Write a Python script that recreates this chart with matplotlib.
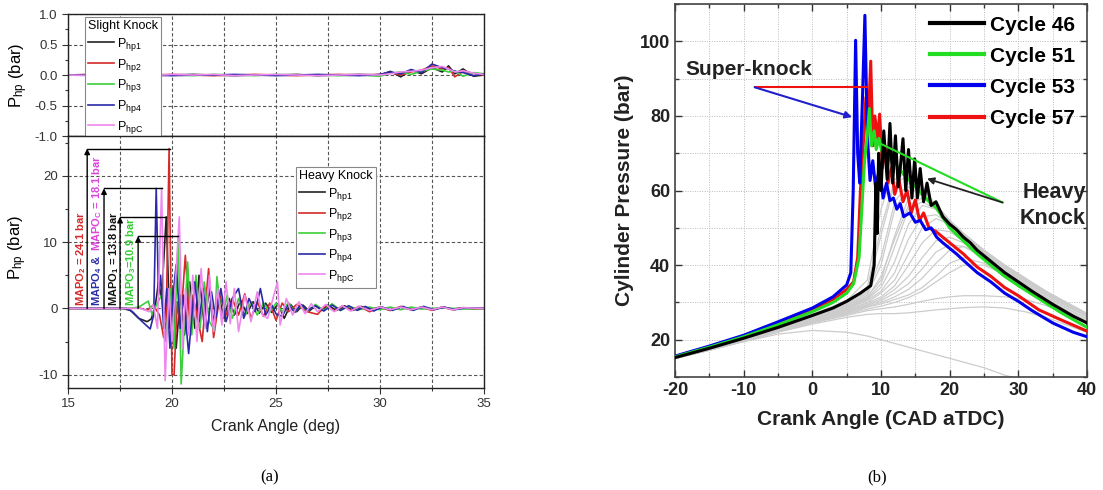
import matplotlib
matplotlib.use("Agg")
import matplotlib.pyplot as plt
from matplotlib.ticker import MultipleLocator

plt.rcParams["font.family"] = ["Liberation Sans", "DejaVu Sans"]
plt.rcParams["axes.unicode_minus"] = False
plt.rcParams["mathtext.fontset"] = "custom"
plt.rcParams["mathtext.rm"] = "Liberation Sans"
plt.rcParams["mathtext.it"] = "Liberation Sans:italic"
plt.rcParams["mathtext.bf"] = "Liberation Sans:bold"

# ---------------- (a) pressure oscillations ----------------
SERIES_LABELS = ["P$_\\mathregular{hp1}$", "P$_\\mathregular{hp2}$", "P$_\\mathregular{hp3}$",
                 "P$_\\mathregular{hp4}$", "P$_\\mathregular{hpC}$"]
SERIES_COLORS = ["#222222", "#d42a2a", "#3ccf3c", "#2a2aa8", "#ee88ee"]

# slight knock (top)
SK_X = [15, 16, 17, 18, 19, 20, 21, 22, 23, 24, 25, 26, 27, 28, 29, 30,
        30.5, 31, 31.5, 32, 32.5, 33, 33.3, 33.6, 34, 34.5, 35]
SK_1 = [0, 0, 0.01, 0, -0.01, 0, 0.01, 0, -0.01, 0, 0, 0.01, -0.01, 0, 0.01, 0,
        0.06, -0.03, 0.08, 0.02, 0.12, 0.05, 0.15, 0.02, 0.1, -0.02, 0]
SK_2 = [0, 0.01, 0, -0.01, 0, 0.01, 0, -0.01, 0, 0.01, 0, -0.01, 0, 0.01, 0, 0.01,
        0.04, 0.0, 0.05, 0.08, 0.15, 0.1, 0.12, -0.03, 0.06, 0.03, 0]
SK_3 = [0, 0, -0.01, 0, 0.01, 0, -0.01, 0.01, 0, -0.01, 0.01, 0, 0, -0.01, 0, -0.02,
        0.03, 0.05, 0.01, 0.06, 0.1, 0.08, 0.05, 0.07, -0.02, 0.04, 0.02]
SK_4 = [0, 0, 0, 0.01, 0, -0.01, 0, 0, 0.01, 0, -0.01, 0, 0.01, 0, -0.01, 0.01,
        0.05, 0.02, 0.09, 0.04, 0.18, 0.12, 0.1, 0.06, 0.04, -0.01, 0.02]
SK_5 = [0, -0.01, 0, 0, -0.01, 0.01, 0, 0.01, -0.01, 0, 0.01, 0, -0.01, 0, 0.01, 0,
        0.02, 0.05, 0.06, 0.08, 0.12, 0.14, 0.1, 0.05, 0.07, 0.03, 0.01]

# heavy knock (bottom)
HK1_X = [15, 17.6, 18.0, 18.4, 18.8, 19.0, 19.2, 19.35, 19.5, 19.72, 19.9, 20.05, 20.2, 20.4,
         20.6, 20.85, 21.1, 21.3, 21.55, 21.8, 22.0, 22.25, 22.5, 22.75, 23.0, 23.3, 23.6,
         23.9, 24.2, 24.5, 24.8, 25.1, 25.4, 25.7, 26.0, 26.3, 26.6, 26.9, 27.2, 27.5, 27.9,
         28.3, 28.7, 29.1, 29.5, 30, 30.5, 31, 31.5, 32, 32.5, 33, 33.5, 34, 35]
HK1_Y = [0, 0, -0.3, -1.5, -2.0, -1.6, 0.5, 4, 1.5, 13.8, -3, 3, -6, 2, -4, 4, -3, 5, -2.5,
         3, -2, 2, -1.5, 1.5, -1, 1.2, -0.8, 1, -0.7, 0.8, -0.6, 0.7, -1.5, 0.6, -0.5, 0.5,
         -0.4, 0.4, -0.3, 0.5, -0.3, 0.4, -0.3, 0.3, -0.2, 0.2, -0.3, 0.2, -0.2, 0.2, -0.2,
         0.2, -0.1, 0.1, 0]
HK2_X = [15, 18.0, 18.4, 18.8, 19.1, 19.4, 19.6, 19.72, 19.86, 20.0, 20.1, 20.25, 20.4, 20.64,
         20.85, 21.0, 21.2, 21.45, 21.76, 22.0, 22.3, 22.6, 22.9, 23.2, 23.5, 23.8, 24.1,
         24.4, 24.7, 25.0, 25.3, 25.6, 26.0, 26.5, 27.0, 27.4, 27.8, 28.2, 28.6, 29.0, 29.5,
         30, 30.5, 31, 31.5, 32, 32.5, 33, 33.5, 34, 34.5, 35]
HK2_Y = [0, 0, 0.1, -0.3, 0.5, -1, -4.4, -2, 24.1, -10, -10, 1, -3, 8, -2, 2, -1, -5, 6,
         -4.4, 2, -1, 1.5, -1, 2.2, -1.5, 1, -1.2, 0.8, -1.8, 0.8, -0.5, 0.6, -0.5, -0.9,
         0.5, -0.4, 0.4, -0.3, 0.3, -0.5, 0.2, -0.3, 0.3, -0.2, 0.2, -0.3, 0.2, -0.2, 0.1,
         -0.1, 0]
HK3_X = [15, 18.0, 18.4, 18.86, 19.05, 19.25, 19.5, 19.7, 19.9, 20.1, 20.3, 20.44, 20.6,
         20.75, 20.95, 21.15, 21.35, 21.55, 21.8, 22.04, 22.16, 22.4, 22.65, 22.9, 23.2,
         23.5, 23.8, 24.1, 24.4, 24.7, 25.0, 25.3, 25.6, 25.9, 26.2, 26.5, 26.9, 27.3, 27.7,
         28.1, 28.5, 29, 29.5, 30, 30.5, 31, 31.5, 32, 33, 34, 35]
HK3_Y = [0, 0, 0.2, 1.1, -1, 0.5, 2, -5, 3, -6, 10.9, -11.4, -2, 7, -4, 5, -3, 4, -2, -3.3,
         4.8, -2, 2, -1.5, 1.5, -1.2, 1, -1, 0.8, -0.6, 0.8, -0.5, 0.9, -0.6, 0.5, -0.4, 0.6,
         -0.3, 0.7, -0.3, 0.3, -0.2, 0.2, -0.2, 0.2, -0.2, 0.2, -0.1, 0.1, -0.1, 0]
HK4_X = [15, 17.8, 18.1, 18.5, 18.95, 19.12, 19.24, 19.35, 19.45, 19.6, 19.75, 19.9, 20.05,
         20.2, 20.4, 20.55, 20.8, 21.1, 21.3, 21.5, 21.7, 21.9, 22.1, 22.35, 22.6, 22.9,
         23.2, 23.45, 23.7, 24.0, 24.25, 24.5, 24.8, 25.0, 25.3, 25.6, 25.9, 26.2, 26.5,
         26.9, 27.3, 27.7, 28.1, 28.5, 28.9, 29.3, 29.7, 30.1, 30.6, 31.1, 31.6, 32.1, 32.6,
         33.1, 33.6, 34.1, 35]
HK4_Y = [0, 0, -0.5, -1.8, -3.1, -1, 18.1, 2, 5, -3, 3, -6, 2, 6.6, -3, 2, -6.8, 4, -2, 3,
         -3.5, 2.5, -1.5, 3, -2, 1.5, 3, -1.5, 1.5, -0.5, 3, -1, 0.5, -0.8, -1.2, 0.6, -0.6,
         0.6, -0.3, 0.4, -0.4, 0.5, -0.3, 0.4, -0.3, 0.3, -0.4, 0.2, -0.3, 0.3, -0.3, 0.3,
         -0.2, 0.2, -0.2, 0.1, 0]
HK5_X = [15, 18.0, 18.5, 18.9, 19.1, 19.3, 19.5, 19.67, 19.85, 20.0, 20.35, 20.5, 20.65,
         20.8, 21.0, 21.2, 21.4, 21.6, 21.8, 22.0, 22.2, 22.4, 22.6, 22.8, 23.0, 23.2, 23.5,
         23.8, 24.1, 24.35, 24.6, 25.07, 25.2, 25.5, 25.8, 26.1, 26.4, 26.7, 27.0, 27.4,
         27.8, 28.2, 28.6, 29.0, 29.5, 30, 30.5, 31, 31.5, 32, 32.5, 33, 33.5, 34, 35]
HK5_Y = [0, 0, 0, -0.5, 0.5, -3, 18.1, -10.9, 3, -5, 13.8, -6, 3, -4, 5, -5, 6, -3, 5, -3.5,
         3, -2.5, 4, -2.3, 3, -3.5, 2, -2, 2.5, -1, -1.5, 4, -2.5, 1.5, -1, 1, -0.8, 0.7,
         -0.5, 0.6, -0.5, 0.4, -0.4, 0.3, -0.3, 0.2, -0.2, 0.2, -0.2, 0.2, -0.2, 0.2, -0.2,
         0.1, 0]

# MAPO annotations: value, arrow position, peak position
MAPO_VAL = [24.1, 18.1, 13.8, 10.9]
MAPO_ARROW_X = [15.92, 16.73, 17.5, 18.37]
MAPO_PEAK_X = [19.92, 19.53, 19.72, 20.3]

# ---------------- (b) cylinder pressure ----------------
C46_X = [-20, -15, -10, -5, 0, 3, 5, 7, 8.5, 9.0, 9.25, 9.45, 9.65, 10.0, 10.4, 10.9, 11.3,
         11.7, 12.1, 12.5, 12.8, 13.2, 13.6, 14.0, 14.5, 14.9, 15.3, 15.7, 16.2, 16.7, 17.3,
         18, 19, 20, 21, 22, 23, 24, 25, 26, 27, 28, 30, 32, 35, 38, 40]
C46_Y = [15.2, 17.7, 20.4, 23.3, 26.5, 28.5, 30.3, 32.5, 34.5, 40, 62, 48.5, 70, 60, 76, 63,
         78, 62, 74.7, 61, 66, 73.9, 60, 71, 58, 68.5, 58, 65.9, 57, 62, 56, 57, 53, 51,
         49.5, 47.5, 46, 44, 42.5, 41, 39.5, 38, 35.5, 33, 29.5, 26.3, 24.5]
C51_X = [-20, -15, -10, -5, 0, 3, 5, 6, 6.8, 7.2, 7.6, 8.0, 8.3, 8.6, 9.0, 9.3, 9.7, 10.2,
         10.8, 11.5, 12.2, 13, 14, 15, 16, 17, 18, 20, 22, 24, 26, 28, 30, 33, 36, 40]
C51_Y = [15.4, 18, 20.8, 24, 27.5, 30, 32.5, 35, 42, 55, 68, 75, 82, 72, 76, 71, 74, 70, 69,
         68, 67, 65, 63, 61, 59, 57, 55.5, 50, 46.5, 43, 40, 37, 34.5, 31, 27.5, 23.3]
C53_X = [-20, -15, -10, -5, 0, 3, 5, 5.6, 5.95, 6.3, 6.6, 6.9, 7.3, 7.65, 8.0, 8.4, 8.8, 9.2,
         9.8, 10.3, 10.8, 11.3, 11.8, 12.3, 12.8, 13.3, 14.2, 15, 15.7, 16.5, 17.3, 18.1, 19,
         20, 21, 22, 24, 26, 28, 30, 32, 35, 38, 40]
C53_Y = [15.6, 18.3, 21.2, 24.8, 28.5, 31.5, 34.7, 38, 60, 100.3, 70, 62, 85, 107, 75, 62.7,
         68, 61, 66, 58, 62, 57.3, 58, 55, 56.5, 53, 54, 51.5, 52, 49.5, 50, 47.5, 46, 44.5,
         43, 41.3, 38, 35.5, 32.5, 30.3, 27.8, 24.5, 22, 20.8]
C57_X = [-20, -15, -10, -5, 0, 3, 5, 6, 6.6, 7.0, 7.4, 7.8, 8.1, 8.5, 8.8, 9.1, 9.5, 9.8,
         10.2, 10.6, 11.0, 11.5, 12, 12.6, 13.2, 13.8, 14.4, 15, 15.6, 16.2, 17, 18, 19, 20,
         21, 22, 24, 26, 28, 30, 33, 36, 40]
C57_Y = [15.5, 18.1, 21.0, 24.4, 28.0, 30.8, 33.5, 35.5, 42, 60, 72, 85, 76, 94.7, 72, 80,
         74, 80.5, 66, 72, 62, 66, 59, 63, 57, 60, 54, 57.5, 52, 54, 50, 49, 47.5, 46, 44.5,
         43, 39.5, 37, 34, 31.8, 28, 25.5, 22.3]
CYCLE_LABELS = ["Cycle 46", "Cycle 51", "Cycle 53", "Cycle 57"]
CYCLE_COLORS = ["#000000", "#22dd22", "#0000ee", "#ee1111"]

# other (non-highlighted) cycles, sampled on a common crank-angle grid
GRAY_X = [-20, -15, -10, -5, 0, 5, 8, 10, 12, 14, 16, 18, 20, 22, 25, 28, 31, 34, 37, 40]
GRAY_CYCLES = [
    [15, 17.6, 20.3, 23.2, 26.3, 29.5, 33, 48, 62, 64, 60, 55, 51, 47.5, 43, 39, 35.5, 32, 29, 26.5],
    [15, 17.5, 20.2, 23, 26, 29, 32, 40, 55, 61, 59, 55, 51.5, 48, 43.5, 39.5, 36, 32.5, 29.5, 27],
    [15, 17.5, 20.1, 22.9, 25.8, 28.6, 31, 35, 45, 55, 57, 55, 51.5, 48, 43.5, 39.5, 36, 32.5, 29.5, 26.5],
    [15, 17.4, 20, 22.7, 25.5, 28.2, 30.5, 33, 38, 47, 53, 53.5, 51, 47.5, 43, 39, 35.5, 32, 29, 26],
    [15, 17.4, 19.9, 22.6, 25.3, 27.8, 29.8, 31.5, 34.5, 40, 46, 49.5, 49, 46.5, 42.5, 38.5, 35, 31.5, 28.5, 25.5],
    [15, 17.3, 19.8, 22.4, 25, 27.4, 29.2, 30.5, 32.5, 35, 39, 43.5, 45.5, 45, 42, 38, 34.5, 31, 28, 25],
    [15, 17.3, 19.7, 22.3, 24.8, 27, 28.7, 29.6, 30.8, 32, 34, 37, 40.5, 42, 40.5, 37.5, 34, 30.5, 27.5, 24.5],
    [15, 17.2, 19.6, 22.1, 24.5, 26.5, 27.8, 28.3, 28.8, 29.5, 30.3, 31, 31.5, 31.8, 31.8, 31.5, 30.8, 29.2, 27, 24.5],
    [15, 17.2, 19.5, 22, 24.2, 26, 26.8, 27, 27, 27.2, 27.6, 28, 28.3, 28.6, 28.8, 28.5, 27.5, 26, 24, 22],
    [15, 17.2, 19.5, 21.5, 22.5, 22, 21, 20, 19, 18, 17, 16, 15, 14, 12.5, 10.5, 9, 8, 7, 6],
    [15, 17.7, 20.5, 23.5, 26.8, 30.5, 36, 55, 66, 66, 61, 56, 52, 48, 43.5, 39.5, 36, 32.5, 29.5, 27],
    [15, 17.6, 20.4, 23.3, 26.4, 29.8, 34, 50, 63, 65, 60.5, 56, 52, 48.5, 44, 40, 36.5, 33, 30, 27],
    [15, 17.5, 20.2, 23, 26, 29, 31.5, 36, 48, 58, 59, 56, 52, 48.5, 44, 40, 36.5, 33, 30, 27],
    [15, 17.4, 20, 22.8, 25.6, 28.4, 30.8, 34, 41, 51, 56, 55, 51.5, 48, 43.5, 39.5, 36, 32.5, 29.5, 26.5],
    [15, 17.3, 19.8, 22.5, 25.1, 27.6, 29.4, 31, 33.5, 37, 42, 46.5, 47.5, 46, 42.5, 38.5, 35, 31.5, 28.5, 25.5],
    [15, 17.2, 19.6, 22.2, 24.6, 26.8, 28.2, 29, 30, 31.3, 33, 35.5, 38, 40, 40, 37.5, 34, 30.5, 27.5, 24.5],
    [15, 17.5, 20.2, 23.1, 26.1, 29.2, 32.5, 42, 57, 62, 60, 56, 52, 48, 43.5, 39.5, 36, 32.5, 29.5, 26.5],
    [15, 17.4, 20, 22.8, 25.7, 28.6, 31.3, 37, 47, 56, 58, 56, 52, 48.5, 44, 40, 36.5, 33, 30, 27],
    [15, 17.3, 19.9, 22.6, 25.4, 28, 30, 32.5, 36, 43, 50, 52.5, 51, 48, 43.5, 39.5, 36, 32.5, 29.5, 26.5],
    [15, 17.3, 19.7, 22.3, 24.9, 27.2, 28.9, 30, 31.5, 33.5, 36.5, 40.5, 44, 45, 43, 39.5, 36, 32.5, 29.5, 26.5],
]

fig = plt.figure(figsize=(11.03, 4.90), dpi=100)

ax_top = fig.add_axes([0.0617, 0.7224, 0.377, 0.249])
ax_bot = fig.add_axes([0.0617, 0.2082, 0.377, 0.5143])
ax_r = fig.add_axes([0.612, 0.2306, 0.3735, 0.761])

tick_c = "#333333"
for ax in (ax_top, ax_bot):
    ax.set_xlim(15, 35)
    ax.xaxis.set_major_locator(MultipleLocator(5))
    ax.xaxis.set_minor_locator(MultipleLocator(2.5))
    ax.tick_params(which="both", direction="out", labelsize=9.5, colors=tick_c, width=0.8)
    ax.tick_params(which="major", length=4)
    ax.tick_params(which="minor", length=2.5)
    ax.grid(which="both", axis="x", linestyle=(0, (3, 2)), color="#555555", lw=0.8)
    ax.grid(which="major", axis="y", linestyle=(0, (3, 2)), color="#555555", lw=0.8)
    for sp in ax.spines.values():
        sp.set_color("#222222")
        sp.set_linewidth(1.0)

# top: slight knock
sk_series = [SK_1, SK_2, SK_3, SK_4, SK_5]
for vals, lab, col in zip(sk_series, SERIES_LABELS, SERIES_COLORS):
    ax_top.plot(SK_X, vals, color=col, lw=1.2, label=lab)
ax_top.set_ylim(-1.0, 1.0)
ax_top.yaxis.set_major_locator(MultipleLocator(0.5))
ax_top.yaxis.set_minor_locator(MultipleLocator(0.25))
ax_top.yaxis.set_major_formatter(plt.FormatStrFormatter("%.1f"))
ax_top.tick_params(axis="x", labelbottom=False)
ax_top.set_ylabel("P$_\\mathregular{hp}$ (bar)", fontsize=12, labelpad=3)
leg = ax_top.legend(title="Slight Knock", loc="upper left", bbox_to_anchor=(0.041, 0.975),
                    borderaxespad=0, fontsize=9, title_fontsize=9, handlelength=2.1,
                    labelspacing=0.3, handletextpad=0.2, borderpad=0.25, fancybox=False,
                    edgecolor="#888888", framealpha=1)
leg._legend_box.align = "left"
leg.get_frame().set_linewidth(0.8)

# bottom: heavy knock
hk_series = [(HK1_X, HK1_Y), (HK2_X, HK2_Y), (HK3_X, HK3_Y), (HK4_X, HK4_Y), (HK5_X, HK5_Y)]
for (xs, ys), lab, col in zip(hk_series, SERIES_LABELS, SERIES_COLORS):
    ax_bot.plot(xs, ys, color=col, lw=1.2, label=lab)
ax_bot.set_ylim(-12, 26)
ax_bot.yaxis.set_major_locator(MultipleLocator(10))
ax_bot.yaxis.set_minor_locator(MultipleLocator(5))
ax_bot.set_xlabel("Crank Angle (deg)", fontsize=11.5, labelpad=6, color="#222222")
ax_bot.set_ylabel("P$_\\mathregular{hp}$ (bar)", fontsize=12, labelpad=4)
ax_bot.yaxis.set_label_coords(-0.095, 0.56)
leg2 = ax_bot.legend(title="Heavy Knock", loc="upper left", bbox_to_anchor=(0.548, 0.877),
                     borderaxespad=0, fontsize=9, title_fontsize=9, handlelength=2.1,
                     labelspacing=0.28, handletextpad=0.2, borderpad=0.25, fancybox=False,
                     edgecolor="#888888", framealpha=1)
leg2._legend_box.align = "left"
leg2.get_frame().set_linewidth(0.8)

for val, xa, xp in zip(MAPO_VAL, MAPO_ARROW_X, MAPO_PEAK_X):
    ax_bot.annotate("", xy=(xa, val), xytext=(xa, 0),
                    arrowprops=dict(arrowstyle="-|>", color="k", lw=1.0, mutation_scale=8,
                                    shrinkA=0, shrinkB=0))
    ax_bot.plot([xa, xp], [val, val], color="k", lw=1.0)

txt_kw = dict(rotation=90, ha="center", va="bottom", fontsize=8, fontweight="bold")
ax_bot.text(15.62, 0.3, "MAPO$_\\mathbf{2}$ = 24.1 bar", color="#d42a2a", **txt_kw)
ax_bot.text(16.42, 0.3, "MAPO$_\\mathbf{4}$ &", color="#2a2aa8", **txt_kw)
ax_bot.text(16.42, 8.6, "MAPO$_\\mathbf{C}$ = 18.1 bar", color="#dd44dd", **txt_kw)
ax_bot.text(17.2, 0.3, "MAPO$_\\mathbf{1}$ = 13.8 bar", color="#111111", **txt_kw)
ax_bot.text(18.02, 0.3, "MAPO$_\\mathbf{3}$=10.9 bar", color="#33cc33", **txt_kw)

# ---------------- right panel ----------------
for ys in GRAY_CYCLES:
    ax_r.plot(GRAY_X, ys, color="#cccccc", lw=0.9, zorder=2)

cyc = [(C46_X, C46_Y), (C51_X, C51_Y), (C53_X, C53_Y), (C57_X, C57_Y)]
handles = [None] * 4
for idx in (3, 2, 1, 0):
    xs, ys = cyc[idx]
    handles[idx], = ax_r.plot(xs, ys, color=CYCLE_COLORS[idx], lw=2.2, zorder=3 + (3 - idx),
                              label=CYCLE_LABELS[idx])

ax_r.set_xlim(-20, 40)
ax_r.set_ylim(10, 110)
ax_r.xaxis.set_major_locator(MultipleLocator(10))
ax_r.xaxis.set_minor_locator(MultipleLocator(5))
ax_r.yaxis.set_major_locator(MultipleLocator(20))
ax_r.yaxis.set_minor_locator(MultipleLocator(10))
ax_r.grid(which="both", linestyle=(0, (1, 1.5)), color="#bbbbbb", lw=0.7, zorder=0)
ax_r.tick_params(which="both", direction="in", top=True, right=True, width=1.0,
                 colors="#333333")
ax_r.tick_params(which="major", length=5, labelsize=13)
ax_r.tick_params(which="minor", length=3)
for lab in ax_r.get_xticklabels() + ax_r.get_yticklabels():
    lab.set_fontweight("bold")
    lab.set_color("#222222")
for sp in ax_r.spines.values():
    sp.set_color("#444444")
    sp.set_linewidth(1.2)
ax_r.set_xlabel("Crank Angle (CAD aTDC)", fontsize=15, fontweight="bold", labelpad=8,
                color="#222222")
ax_r.set_ylabel("Cylinder Pressure (bar)", fontsize=15, fontweight="bold", labelpad=4,
                color="#222222")

leg3 = ax_r.legend(handles=handles, loc="upper right", bbox_to_anchor=(1.0, 1.0),
                   frameon=False, prop=dict(size=15, weight="bold"), handlelength=2.6,
                   handletextpad=0.3, labelspacing=0.58, borderaxespad=0.15)
for ln in leg3.get_lines():
    ln.set_linewidth(3.0)

ax_r.text(-18.5, 92.5, "Super-knock", fontsize=15, fontweight="bold", ha="left",
          va="center", color="#222222", zorder=10)
ax_r.plot([-8.4, 7.9], [87.7, 87.7], color="#ee1111", lw=1.5, zorder=8)
ax_r.annotate("", xy=(5.8, 79.7), xytext=(-8.4, 87.7),
              arrowprops=dict(arrowstyle="-|>", color="#2020cc", lw=1.5, mutation_scale=10,
                              shrinkA=0, shrinkB=0), zorder=8)
ax_r.text(39.8, 56, "Heavy\nKnock", fontsize=15.5, fontweight="bold", ha="right", va="center",
          multialignment="right", linespacing=1.35, color="#222222", zorder=10)
ax_r.plot([27.7, 9.1], [56.8, 73.3], color="#22dd22", lw=1.5, zorder=8)
ax_r.annotate("", xy=(16.7, 63.2), xytext=(27.7, 56.8),
              arrowprops=dict(arrowstyle="-|>", color="#222222", lw=1.3, mutation_scale=10,
                              shrinkA=0, shrinkB=0), zorder=8)

# captions
fig.text(270 / 1103, 1 - 477 / 490, "(a)", fontsize=12, family="Liberation Serif",
         ha="center", va="center")
fig.text(877 / 1103, 1 - 477 / 490, "(b)", fontsize=12, family="Liberation Serif",
         ha="center", va="center")

fig.savefig("out.png", dpi=100)
